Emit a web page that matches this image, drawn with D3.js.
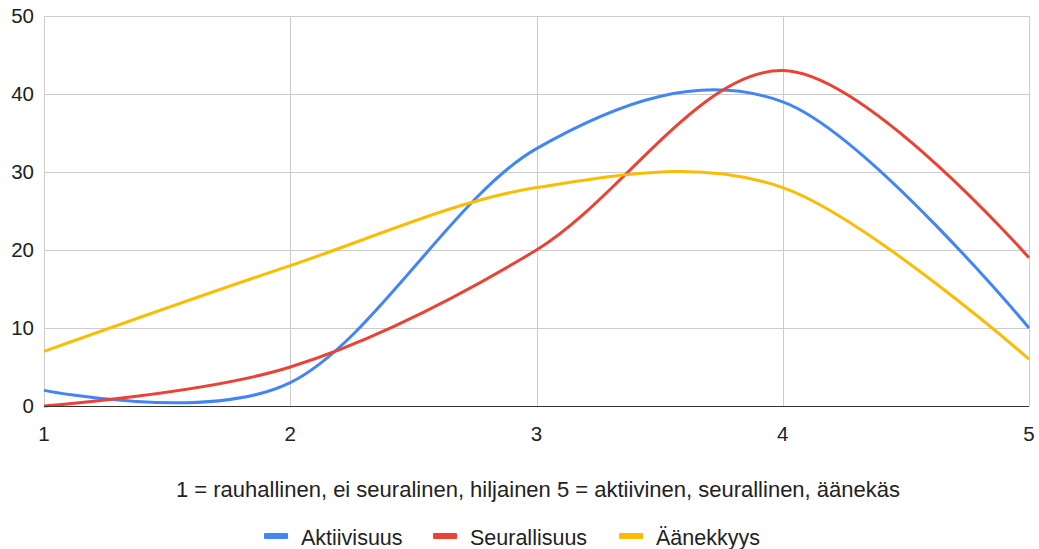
<!DOCTYPE html>
<html><head><meta charset="utf-8">
<script src="https://cdn.jsdelivr.net/npm/d3@7"></script>
<style>body{margin:0;background:#fff}svg{display:block;font-family:"Liberation Sans",Arial,sans-serif}</style>
</head><body><svg id="c" width="1039" height="549"></svg>
<script>
const xCategories = [1, 2, 3, 4, 5];
const aktiivisuus = [2, 3, 33, 39, 10];
const seurallisuus = [0, 5, 20, 43, 19];
const aanekkyys = [7, 18, 28, 28, 6];
const yTicks = [0, 10, 20, 30, 40, 50];
const seriesNames = ["Aktiivisuus", "Seurallisuus", "Äänekkyys"];
const seriesColors = ["#4285F4", "#EA4335", "#FBBC04"];
const xTitle = "1 = rauhallinen, ei seuralinen, hiljainen 5 = aktiivinen, seurallinen, äänekäs";

const series = [aktiivisuus, seurallisuus, aanekkyys];
const svg = d3.select("#c");
const x = d3.scaleLinear().domain([1, 5]).range([44, 1029]);
const y = d3.scaleLinear().domain([0, 50]).range([406, 16]);

// horizontal grid
svg.append("g").selectAll("line").data(yTicks.filter(d => d > 0)).join("line")
  .attr("x1", 44).attr("x2", 1029).attr("y1", d => y(d) + 0.5).attr("y2", d => y(d) + 0.5)
  .attr("stroke", "#cccccc").attr("stroke-width", 1);
// vertical grid
svg.append("g").selectAll("line").data(xCategories).join("line")
  .attr("x1", d => Math.round(x(d)) + 0.5).attr("x2", d => Math.round(x(d)) + 0.5)
  .attr("y1", 16).attr("y2", 406)
  .attr("stroke", "#cccccc").attr("stroke-width", 1);

// y labels
svg.append("g").selectAll("text").data(yTicks).join("text")
  .attr("x", 34).attr("y", d => y(d) + 7).attr("text-anchor", "end")
  .attr("font-size", 20.5).attr("fill", "#222").text(d => d);
// x labels
svg.append("g").selectAll("text").data(xCategories).join("text")
  .attr("x", d => x(d)).attr("y", 441).attr("text-anchor", "middle")
  .attr("font-size", 20.5).attr("fill", "#222").text(d => d);

// lines
const line = d3.line().x((d, i) => x(xCategories[i])).y(d => y(d)).curve(d3.curveCardinal.tension(0));
series.forEach((s, i) => {
  svg.append("path").datum(s).attr("d", line).attr("fill", "none")
    .attr("stroke", seriesColors[i]).attr("stroke-width", 3).attr("stroke-linejoin", "round");
});

// baseline
svg.append("line").attr("x1", 44).attr("x2", 1029).attr("y1", y(0) + 0.5).attr("y2", y(0) + 0.5)
  .attr("stroke", "#333").attr("stroke-width", 1);

// x title
svg.append("text").attr("x", 538).attr("y", 497).attr("text-anchor", "middle")
  .attr("font-size", 22).attr("fill", "#222").text(xTitle);

// legend
const legendX = [264, 433, 619];
seriesNames.forEach((n, i) => {
  const g = svg.append("g");
  g.append("rect").attr("x", legendX[i]).attr("y", 533).attr("width", 24).attr("height", 6).attr("rx", 1)
    .attr("fill", seriesColors[i]);
  g.append("text").attr("x", legendX[i] + 37).attr("y", 545).attr("font-size", 21.5).attr("fill", "#222").text(n);
});
</script></body></html>
